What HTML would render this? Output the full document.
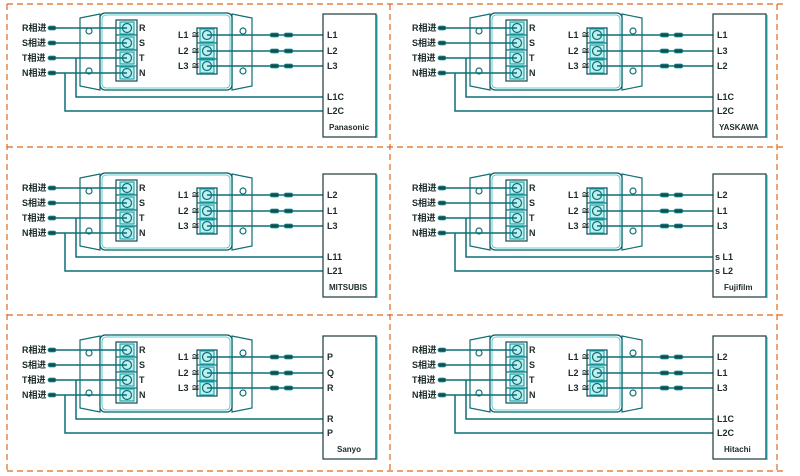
<!DOCTYPE html>
<html><head><meta charset="utf-8"><style>
html,body{margin:0;padding:0;background:#fff;}
svg{display:block;}
text{font-family:"Liberation Sans","Noto Sans CJK SC",sans-serif;font-size:9px;fill:#1b2a2a;font-weight:bold;}
</style></head><body>
<svg width="800" height="476" viewBox="0 0 800 476" xmlns="http://www.w3.org/2000/svg">
<defs>
<g id="f" fill="none" stroke="#0f6f73" stroke-width="1.2">
  <!-- flanges -->
  <polygon points="80,18 100,14 100,90 80,86" fill="#fff"/>
  <polygon points="252,18 232,14 232,90 252,86" fill="#fff"/>
  <rect x="100" y="13" width="132" height="77" rx="5" fill="#fff" stroke="#0a5a60"/>
  <rect x="102" y="15" width="128" height="73" rx="4" stroke="#24c4cc" stroke-width="0.8"/>
  <circle cx="89" cy="31" r="3"/><circle cx="89" cy="71" r="3"/>
  <circle cx="243" cy="31" r="3"/><circle cx="243" cy="71" r="3"/>
  <!-- input block -->
  <rect x="116" y="20" width="21" height="61" stroke="#0a4a50"/>
  <line x1="116" y1="35" x2="137" y2="35"/><line x1="116" y1="50" x2="137" y2="50"/><line x1="116" y1="66" x2="137" y2="66"/>
  <rect x="120" y="22" width="14" height="12" fill="#bff0f0" stroke="#1aa8b0"/>
  <rect x="120" y="37" width="14" height="12" fill="#bff0f0" stroke="#1aa8b0"/>
  <rect x="120" y="52" width="14" height="12" fill="#bff0f0" stroke="#1aa8b0"/>
  <rect x="120" y="67" width="14" height="12" fill="#bff0f0" stroke="#1aa8b0"/>
  <circle cx="127" cy="28" r="4.5"/><circle cx="127" cy="43" r="4.5"/><circle cx="127" cy="58" r="4.5"/><circle cx="127" cy="73" r="4.5"/>
  <!-- output block -->
  <rect x="197" y="28" width="20" height="46" stroke="#0a4a50"/>
  <line x1="197" y1="43" x2="217" y2="43"/><line x1="197" y1="59" x2="217" y2="59"/>
  <rect x="200" y="29" width="14" height="13" fill="#bff0f0" stroke="#1aa8b0"/>
  <rect x="200" y="45" width="14" height="13" fill="#bff0f0" stroke="#1aa8b0"/>
  <rect x="200" y="60" width="14" height="13" fill="#bff0f0" stroke="#1aa8b0"/>
  <circle cx="207" cy="35" r="4.5"/><circle cx="207" cy="51" r="4.5"/><circle cx="207" cy="66" r="4.5"/>
  <!-- input lines -->
  <g stroke="#0c6f78" stroke-width="1.5">
  <line x1="56" y1="28" x2="127" y2="28"/><line x1="56" y1="43" x2="127" y2="43"/>
  <line x1="56" y1="58" x2="127" y2="58"/><line x1="56" y1="73" x2="127" y2="73"/>
  <polyline points="76,58 76,97 323,97"/>
  <polyline points="65,73 65,111 323,111"/>
  <line x1="207" y1="35" x2="323" y2="35"/><line x1="207" y1="51" x2="323" y2="51"/><line x1="207" y1="66" x2="323" y2="66"/>
  </g>
  <g fill="#1f4a4c" stroke="#12a0a8" stroke-width="0.8">
  <rect x="48" y="26" width="8" height="4" rx="2"/><rect x="48" y="41" width="8" height="4" rx="2"/>
  <rect x="48" y="56" width="8" height="4" rx="2"/><rect x="48" y="71" width="8" height="4" rx="2"/>
  <rect x="270" y="33" width="9" height="4" rx="2"/><rect x="284" y="33" width="9" height="4" rx="2"/>
  <rect x="270" y="49" width="9" height="4" rx="2"/><rect x="284" y="49" width="9" height="4" rx="2"/>
  <rect x="270" y="64" width="9" height="4" rx="2"/><rect x="284" y="64" width="9" height="4" rx="2"/>
  </g>
  <rect x="323" y="14" width="53" height="123" fill="#fff" stroke="#1c3a3a"/>
  <line x1="377" y1="15" x2="377" y2="138" stroke="#28c8d0" stroke-width="1.2"/>
</g>
<g id="t">
  <text x="22" y="31">R相进</text><text x="22" y="46">S相进</text><text x="22" y="61">T相进</text><text x="22" y="76">N相进</text>
  <text x="139" y="31">R</text><text x="139" y="46">S</text><text x="139" y="61">T</text><text x="139" y="76">N</text>
  <text x="178" y="38">L1 ≅</text><text x="178" y="54">L2 ≅</text><text x="178" y="69">L3 ≅</text>
</g>
</defs>
<!-- dashed frame -->
<g stroke="#e0691e" stroke-width="1.2" stroke-dasharray="6,4" fill="none">
<line x1="7" y1="4" x2="783" y2="4"/>
<line x1="7" y1="147" x2="783" y2="147"/>
<line x1="7" y1="315" x2="783" y2="315"/>
<line x1="7" y1="471" x2="783" y2="471"/>
<line x1="7" y1="4" x2="7" y2="471"/>
<line x1="390" y1="4" x2="390" y2="471"/>
<line x1="777" y1="4" x2="777" y2="471"/>
</g>

<use href="#f" x="0" y="0"/><use href="#t" x="0" y="0"/>
<use href="#f" x="390" y="0"/><use href="#t" x="390" y="0"/>
<use href="#f" x="0" y="160"/><use href="#t" x="0" y="160"/>
<use href="#f" x="390" y="160"/><use href="#t" x="390" y="160"/>
<use href="#f" x="0" y="322"/><use href="#t" x="0" y="322"/>
<use href="#f" x="390" y="322"/><use href="#t" x="390" y="322"/>

<g>
<text x="327" y="38">L1</text><text x="327" y="54">L2</text><text x="327" y="69">L3</text>
<text x="327" y="100">L1C</text><text x="327" y="114">L2C</text><text x="329" y="130" style="font-size:8px">Panasonic</text>
</g>
<g transform="translate(390,0)">
<text x="327" y="38">L1</text><text x="327" y="54">L3</text><text x="327" y="69">L2</text>
<text x="327" y="100">L1C</text><text x="327" y="114">L2C</text><text x="329" y="130" style="font-size:8px">YASKAWA</text>
</g>
<g transform="translate(0,160)">
<text x="327" y="38">L2</text><text x="327" y="54">L1</text><text x="327" y="69">L3</text>
<text x="327" y="100">L11</text><text x="327" y="114">L21</text><text x="329" y="130" style="font-size:8px">MITSUBIS</text>
</g>
<g transform="translate(390,160)">
<text x="327" y="38">L2</text><text x="327" y="54">L1</text><text x="327" y="69">L3</text>
<text x="325" y="100">s L1</text><text x="325" y="114">s L2</text><text x="334" y="130" style="font-size:8px">Fujifilm</text>
</g>
<g transform="translate(0,322)">
<text x="327" y="38">P</text><text x="327" y="54">Q</text><text x="327" y="69">R</text>
<text x="327" y="100">R</text><text x="327" y="114">P</text><text x="337" y="130" style="font-size:8px">Sanyo</text>
</g>
<g transform="translate(390,322)">
<text x="327" y="38">L2</text><text x="327" y="54">L1</text><text x="327" y="69">L3</text>
<text x="327" y="100">L1C</text><text x="327" y="114">L2C</text><text x="334" y="130" style="font-size:8px">Hitachi</text>
</g>
</svg>
</body></html>
